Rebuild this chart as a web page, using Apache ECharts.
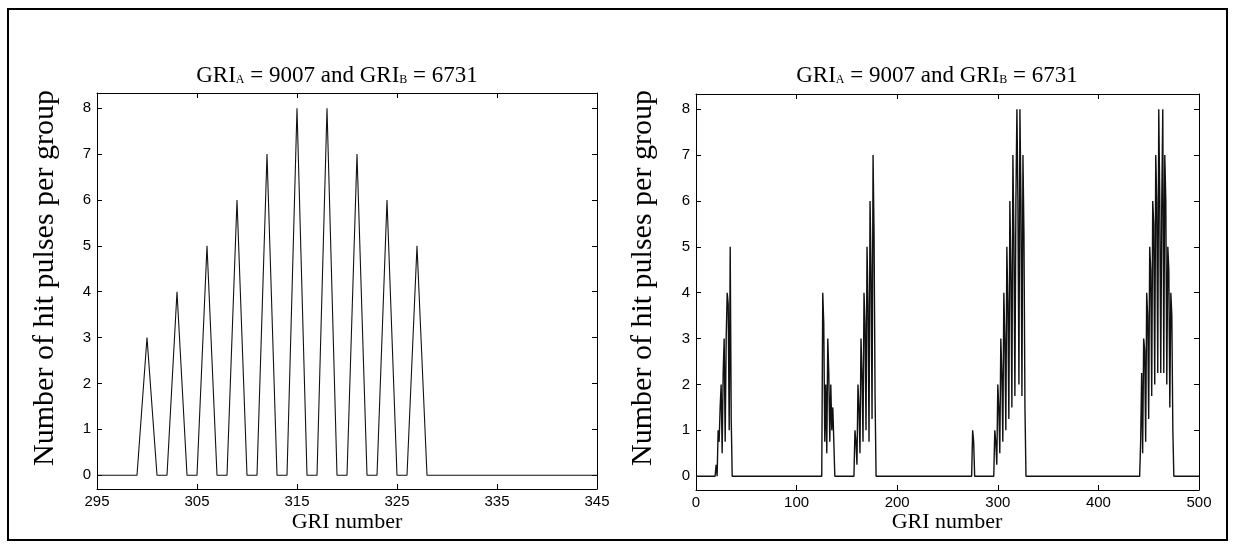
<!DOCTYPE html>
<html><head><meta charset="utf-8">
<script src="https://cdn.jsdelivr.net/npm/echarts@6/dist/echarts.min.js"></script>
<style>html,body{margin:0;padding:0;background:#fff}#c{width:1233px;height:547px}</style>
</head><body><div id="c"></div>
<script>
// ---------- data ----------
const titleText = ['GRI', 'A', ' = 9007 and GRI', 'B', ' = 6731'];
const yLabelText = 'Number of hit pulses per group';
const xLabelText = 'GRI number';

const leftXTicks = [295, 305, 315, 325, 335, 345];
const rightXTicks = [0, 100, 200, 300, 400, 500];
const yTicks = [0, 1, 2, 3, 4, 5, 6, 7, 8];

// left panel: GRI number / hit pulses
const leftX = [295, 299, 300, 301, 302, 303, 304, 305, 306, 307, 308, 309, 310, 311, 312, 313, 314, 315, 316, 317, 318, 319, 320, 321, 322, 323, 324, 325, 326, 327, 328, 345];
const leftY = [0, 0, 3, 0, 0, 4, 0, 0, 5, 0, 0, 6, 0, 0, 7, 0, 0, 8, 0, 0, 8, 0, 0, 7, 0, 0, 6, 0, 0, 5, 0, 0];

// right panel: clusters of consecutive GRI numbers (start GRI, values)
const rightClusterStart = [20, 126, 158, 275, 297, 442];
const rightCluster1 = [0.25, 0, 1, 0.75, 1.5, 2, 0.5, 2.25, 3, 0.75, 3, 4, 3.75, 1, 5, 1.25];
const rightCluster2 = [4, 3.33, 0.75, 2, 0.5, 3, 2.25, 0.75, 2, 1, 1.5, 0.75];
const rightCluster3 = [1, 0.75, 0.25, 2, 1.5, 0.5, 3, 2.25, 0.75, 4, 3.33, 1, 5, 3.75, 0.75, 6, 4.5, 1.25, 7, 5.25, 1.75];
const rightCluster4 = [1, 0.75];
const rightCluster5 = [1, 0.75, 0.25, 2, 1.5, 0.5, 3, 2.25, 0.75, 4, 3, 1, 5, 3.75, 1.25, 6, 4.5, 1.5, 7, 5.25, 1.75, 6, 8, 6, 2, 8, 6, 1.75, 7, 5.25, 1.5];
const rightCluster6 = [0.75, 2.25, 0.5, 3, 2.75, 0.75, 4, 3.5, 1.25, 5, 4.5, 1.75, 6, 5.5, 2, 7, 6, 2.25, 8, 6, 2.25, 6, 8, 2.25, 7, 6, 2, 5, 4.5, 1.5, 4, 3.5, 1];
const rightClusters = [rightCluster1, rightCluster2, rightCluster3, rightCluster4, rightCluster5, rightCluster6];
const rightXRange = [0, 500];

// ---------- build ----------
const leftData = leftX.map((x, i) => [x, leftY[i]]);
const rightData = [[rightXRange[0], 0]];
rightClusters.forEach((vals, k) => {
  const s = rightClusterStart[k];
  rightData.push([s - 1, 0]);
  vals.forEach((v, i) => rightData.push([s + i, v]));
  rightData.push([s + vals.length, 0]);
});
rightData.push([rightXRange[1], 0]);

const BLACK = '#000';
const SANS = 'Liberation Sans';
const SERIF = 'Liberation Serif';

function xAxes(gi, min, max, ticks) {
  const line = {show: true, onZero: false, lineStyle: {color: BLACK, width: 1}};
  const tick = {show: true, inside: true, length: 5, customValues: ticks, lineStyle: {color: BLACK, width: 1}};
  return [
    {type: 'value', gridIndex: gi, min, max, position: 'bottom', axisLine: line, axisTick: tick,
     axisLabel: {show: true, customValues: ticks, color: BLACK, fontFamily: SANS, fontSize: 15, margin: 5},
     splitLine: {show: false}},
    {type: 'value', gridIndex: gi, min, max, position: 'top', axisLine: line, axisTick: tick,
     axisLabel: {show: false}, splitLine: {show: false}}
  ];
}
function yAxes(gi, min, max, ticks) {
  const line = {show: true, onZero: false, lineStyle: {color: BLACK, width: 1}};
  const tick = {show: true, inside: true, length: 5, customValues: ticks, lineStyle: {color: BLACK, width: 1}};
  return [
    {type: 'value', gridIndex: gi, min, max, position: 'left', axisLine: line, axisTick: tick,
     axisLabel: {show: true, customValues: ticks, color: BLACK, fontFamily: SANS, fontSize: 15, margin: 6},
     splitLine: {show: false}},
    {type: 'value', gridIndex: gi, min, max, position: 'right', axisLine: line, axisTick: tick,
     axisLabel: {show: false}, splitLine: {show: false}}
  ];
}

const richTitle = {
  a: {fontSize: 23, fontFamily: SERIF, color: BLACK, lineHeight: 24},
  b: {fontSize: 12, fontFamily: SERIF, color: BLACK, verticalAlign: 'bottom', lineHeight: 24, padding: [0, 0, 2, 0]}
};
const titleRich = '{a|' + titleText[0] + '}{b|' + titleText[1] + '}{a|' + titleText[2] + '}{b|' + titleText[3] + '}{a|' + titleText[4] + '}';

function titleEl(cx, cy) {
  return {type: 'text', x: cx, y: cy, style: {text: titleRich, rich: richTitle, align: 'center', verticalAlign: 'middle', textAlign: 'center', textVerticalAlign: 'middle'}};
}
function yLabelEl(cx, cy) {
  return {type: 'text', x: cx, y: cy, rotation: Math.PI / 2,
    style: {text: yLabelText, font: '30px "Liberation Serif"', fill: BLACK, align: 'center', verticalAlign: 'middle', textAlign: 'center', textVerticalAlign: 'middle'}};
}
function xLabelEl(cx, cy) {
  return {type: 'text', x: cx, y: cy,
    style: {text: xLabelText, font: '22px "Liberation Serif"', fill: BLACK, align: 'center', verticalAlign: 'middle', textAlign: 'center', textVerticalAlign: 'middle'}};
}

const chart = echarts.init(document.getElementById('c'), null, {renderer: 'canvas'});
chart.setOption({
  animation: false,
  backgroundColor: '#fff',
  grid: [
    {left: 97, top: 93, width: 500, height: 396},
    {left: 696, top: 94, width: 503, height: 396}
  ],
  xAxis: [...xAxes(0, 295, 345, leftXTicks), ...xAxes(1, rightXRange[0], rightXRange[1], rightXTicks)],
  yAxis: [...yAxes(0, -0.3, 8.33, yTicks), ...yAxes(1, -0.3, 8.33, yTicks)],
  series: [
    {type: 'line', xAxisIndex: 0, yAxisIndex: 0, data: leftData, symbol: 'none', lineStyle: {color: '#111', width: 1.1}},
    {type: 'line', xAxisIndex: 2, yAxisIndex: 2, data: rightData, symbol: 'none', lineStyle: {color: '#111', width: 1.4}}
  ],
  graphic: [
    {type: 'rect', shape: {x: 8, y: 9, width: 1219, height: 531}, style: {fill: 'none', stroke: BLACK, lineWidth: 2}},
    titleEl(337, 76),
    titleEl(937, 76),
    yLabelEl(45, 278),
    yLabelEl(643, 278),
    xLabelEl(347, 522),
    xLabelEl(947, 522)
  ]
});
</script></body></html>
